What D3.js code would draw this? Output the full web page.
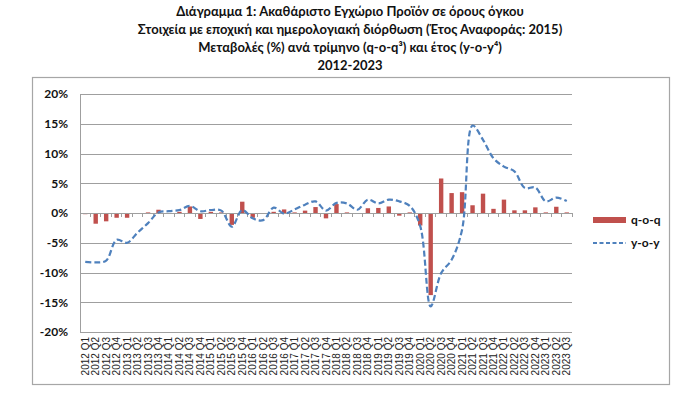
<!DOCTYPE html>
<html>
<head>
<meta charset="utf-8">
<script src="https://cdn.jsdelivr.net/npm/d3@7"></script>
<style>
  body { margin: 0; background: #fff; }
  svg { display: block; font-family: Lato, "Open Sans", sans-serif; }
</style>
</head>
<body>
<svg id="chart" width="700" height="395"></svg>
<script>
const titleLines = [
  "Διάγραμμα 1: Ακαθάριστο Εγχώριο Προϊόν σε όρους όγκου",
  "Στοιχεία με εποχική και ημερολογιακή διόρθωση (Έτος Αναφοράς: 2015)",
  "Μεταβολές (%) ανά τρίμηνο (q-o-q³) και έτος (y-o-y⁴)",
  "2012-2023"
];

const years = [2012, 2013, 2014, 2015, 2016, 2017, 2018, 2019, 2020, 2021, 2022, 2023];
const quarters = ["Q1", "Q2", "Q3", "Q4"];
const categories = [];
years.forEach(y => quarters.forEach(q => categories.push(y + " " + q)));
categories.splice(47); // ends at 2023 Q3

const qoq = [
  -0.2, -1.8, -1.4, -0.8,
  -0.8, -0.1, 0.1, 0.55,
  -0.1, 0.2, 1.1, -1.0,
  0.2, 0.1, -2.0, 1.9,
  -0.8, -0.1, 0.2, 0.6,
  0.1, 0.4, 1.0, -0.9,
  1.5, 0.1, -0.1, 0.8,
  0.85, 1.1, -0.45, 0.1,
  -2.1, -13.8, 5.8, 3.35,
  3.5, 1.3, 3.25, 0.7,
  2.25, 0.45, 0.45, 0.95,
  0.1, 1.05, 0.1
];

const yoy = [
  -8.2, -8.3, -8.0, -4.5,
  -5.0, -3.3, -1.7, 0.1,
  0.3, 0.5, 1.2, 0.3,
  0.5, 0.4, -2.3, 0.5,
  -0.9, -1.2, 0.9, -0.1,
  0.6, 1.4, 1.95, 0.4,
  1.7, 1.6, 0.55, 2.25,
  1.6, 2.25, 1.95, 1.2,
  -2.2, -15.7, -10.1, -7.85,
  -2.8, 14.7, 12.3, 9.2,
  7.8, 7.0, 4.2, 4.3,
  1.95, 2.6, 2.0
];

const yTicks = [-20, -15, -10, -5, 0, 5, 10, 15, 20];
const legendItems = ["q-o-q", "y-o-y"];

const svg = d3.select("#chart");
const RED = "#c0504d", BLUE = "#4f81bd", GRID = "#9f9f9f";

// τίτλος
svg.append("g").selectAll("text")
  .data(titleLines)
  .join("text")
  .attr("x", 350)
  .attr("y", (d, i) => 16 + i * 18)
  .attr("text-anchor", "middle")
  .attr("font-size", 13)
  .attr("font-weight", "bold")
  .attr("fill", "#111")
  .text(d => d);

// πλαίσιο γραφήματος
svg.append("rect")
  .attr("x", 32.5).attr("y", 77.5)
  .attr("width", 637).attr("height", 307)
  .attr("fill", "none")
  .attr("stroke", "#a6a6a6")
  .attr("stroke-width", 1.2);

const plot = { left: 80, right: 572, top: 94, bottom: 332 };

const x = d3.scaleBand()
  .domain(categories)
  .range([plot.left, plot.right])
  .paddingInner(0.58)
  .paddingOuter(0.29);

const xc = d3.scalePoint()
  .domain(categories)
  .range([plot.left, plot.right])
  .padding(0.5);

const y = d3.scaleLinear()
  .domain([-20, 20])
  .range([plot.bottom, plot.top]);

// γραμμές πλέγματος + άξονας y
const yAxis = svg.append("g")
  .attr("transform", `translate(${plot.left},0)`)
  .call(d3.axisLeft(y).tickValues(yTicks).tickSize(-(plot.right - plot.left)).tickPadding(12)
    .tickFormat(d => d + "%"));
yAxis.select(".domain").attr("stroke", GRID);
yAxis.selectAll(".tick line").attr("stroke", GRID).attr("shape-rendering", "crispEdges");
yAxis.selectAll(".tick text")
  .attr("font-family", "Lato, sans-serif")
  .attr("font-size", 12)
  .attr("font-weight", "bold")
  .attr("fill", "#111");

// ράβδοι q-o-q
svg.append("g").selectAll("rect")
  .data(qoq)
  .join("rect")
  .attr("x", (d, i) => x(categories[i]))
  .attr("width", x.bandwidth())
  .attr("y", d => y(Math.max(0, d)))
  .attr("height", d => Math.abs(y(d) - y(0)))
  .attr("fill", RED);

// άξονας x στο μηδέν με μικρά ticks
const step = x.step();
const zeroAxis = svg.append("g");
zeroAxis.append("line")
  .attr("x1", plot.left).attr("x2", plot.right)
  .attr("y1", y(0)).attr("y2", y(0))
  .attr("stroke", GRID)
  .attr("shape-rendering", "crispEdges");
zeroAxis.selectAll("line.tk")
  .data(d3.range(categories.length + 1))
  .join("line")
  .attr("class", "tk")
  .attr("x1", i => plot.left + i * step)
  .attr("x2", i => plot.left + i * step)
  .attr("y1", y(0)).attr("y2", y(0) + 4)
  .attr("stroke", GRID)
  .attr("shape-rendering", "crispEdges");

// γραμμή y-o-y
svg.append("path")
  .datum(yoy)
  .attr("fill", "none")
  .attr("stroke", BLUE)
  .attr("stroke-width", 2.2)
  .attr("stroke-dasharray", "6,3")
  .attr("d", d3.line()
    .x((d, i) => xc(categories[i]))
    .y(d => y(d))
    .curve(d3.curveCatmullRom.alpha(0.5)));

// ετικέτες x (κάθετες)
svg.append("g").selectAll("text")
  .data(categories)
  .join("text")
  .attr("transform", d => `translate(${xc(d) + 3.5},337) rotate(-90)`)
  .attr("text-anchor", "end")
  .attr("font-family", "Liberation Sans, Arial, sans-serif")
  .attr("font-size", 10)
  .attr("fill", "#222")
  .text(d => d);

// υπόμνημα
const legend = svg.append("g").attr("transform", "translate(593,0)");
legend.append("rect")
  .attr("x", 0).attr("y", 217)
  .attr("width", 33).attr("height", 6)
  .attr("fill", RED);
legend.append("line")
  .attr("x1", 0).attr("x2", 33)
  .attr("y1", 243).attr("y2", 243)
  .attr("stroke", BLUE)
  .attr("stroke-width", 2)
  .attr("stroke-dasharray", "4,2.5");
legend.selectAll("text")
  .data(legendItems)
  .join("text")
  .attr("x", 38)
  .attr("y", (d, i) => 224 + i * 23)
  .attr("font-size", 12)
  .attr("font-weight", "bold")
  .attr("fill", "#111")
  .text(d => d);
</script>
</body>
</html>
